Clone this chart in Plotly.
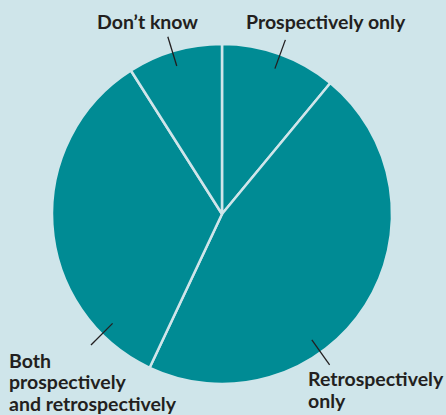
import math
import plotly.graph_objects as go

# Share of respondents by how data were collected
categories = ["Prospectively only", "Retrospectively only",
              "Both prospectively and retrospectively", "Don\u2019t know"]
shares = [11, 46, 34, 9]

# How each category label is broken into lines
label_lines = [
    ["Prospectively only"],
    ["Retrospectively", "only"],
    ["Both", "prospectively", "and retrospectively"],
    ["Don\u2019t know"],
]

# Leader-line directions (degrees clockwise from 12 o'clock)
leader_angles = [20, 144.5, 225, 343]

W, H = 446, 415
CX, CY, R = 222, 214, 170          # pie centre / radius in pixels (y from top)
BG = "#cfe5ea"
TEAL = "#008b94"
INK = "#231f20"

dom_x = [(CX - R) / W, (CX + R) / W]
dom_y = [(H - CY - R) / H, (H - CY + R) / H]

fig = go.Figure(go.Pie(
    labels=categories,
    values=shares,
    sort=False,
    direction="clockwise",
    rotation=0,
    marker=dict(colors=[TEAL] * len(shares), line=dict(color=BG, width=2.5)),
    textinfo="none",
    hoverinfo="label+percent",
    showlegend=False,
    domain=dict(x=dom_x, y=dom_y),
))


def px_to_paper(x, y):
    return x / W, 1 - y / H


shapes = []
for ang in leader_angles:
    a = math.radians(ang)
    x0, y0 = CX + 0.91 * R * math.sin(a), CY - 0.91 * R * math.cos(a)
    x1, y1 = CX + 1.09 * R * math.sin(a), CY - 1.09 * R * math.cos(a)
    px0, py0 = px_to_paper(x0, y0)
    px1, py1 = px_to_paper(x1, y1)
    shapes.append(dict(type="line", xref="paper", yref="paper",
                       x0=px0, y0=py0, x1=px1, y1=py1,
                       line=dict(color=INK, width=1.3)))

font = dict(family="Lato, 'Noto Sans', sans-serif", size=19.5, color=INK)
LINE_GAP = 21.5
# (x, y of first line centre, anchor)
label_pos = [
    (326, 22, "center"),
    (307, 378.5, "left"),
    (8, 360, "left"),
    (147, 22, "center"),
]
annotations = []
for lines, (x, y, xa) in zip(label_lines, label_pos):
    for i, line in enumerate(lines):
        px, py = px_to_paper(x, y + i * LINE_GAP)
        annotations.append(dict(text="<b>" + line + "</b>", x=px, y=py,
                                xref="paper", yref="paper", xanchor=xa,
                                yanchor="middle", showarrow=False, font=font,
                                borderpad=0, height=21, valign="middle"))

fig.update_layout(
    width=W, height=H,
    margin=dict(l=0, r=0, t=0, b=0),
    paper_bgcolor=BG, plot_bgcolor=BG,
    shapes=shapes, annotations=annotations,
)

fig.write_html("out.html")
